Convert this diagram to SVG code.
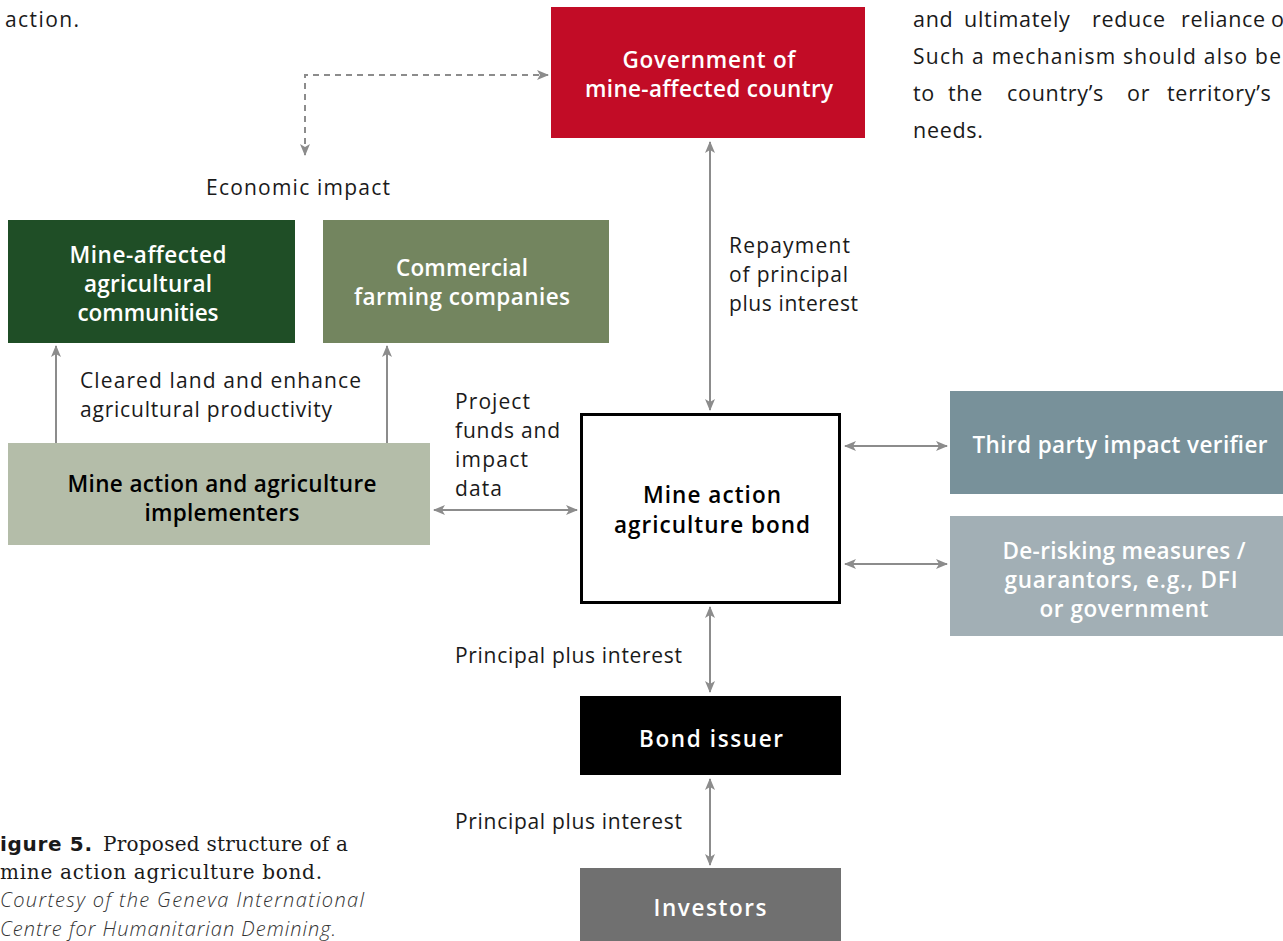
<svg xmlns="http://www.w3.org/2000/svg" width="1283" height="941" viewBox="0 0 1283 941">
<style>
.t{font-family:"Open Sans","Noto Sans",sans-serif;font-size:21px;fill:#1a1a1a}
.p{font-size:21.5px;letter-spacing:0.7px}
.b{font-family:"Open Sans","Noto Sans",sans-serif;font-size:22.5px;font-weight:600;text-anchor:middle}
.w{fill:#ffffff}
.k{fill:#000000}
.c{stroke:#8c8c8c;stroke-width:2;fill:none}
.d{stroke-dasharray:6,5}
.cs{font-family:"DejaVu Serif",serif;font-size:20px;fill:#1a1a1a}
.ci{font-family:"Open Sans","Noto Sans",sans-serif;font-size:20px;font-style:italic;font-weight:300;fill:#333}
</style>
<defs>
<marker id="ah" viewBox="0 0 12 10" refX="11" refY="5" markerWidth="12" markerHeight="10" markerUnits="userSpaceOnUse" orient="auto-start-reverse">
<path d="M0,0 L12,5 L0,10 L3,5 z" fill="#8c8c8c"/>
</marker>
</defs>
<rect width="1283" height="941" fill="#ffffff"/>

<g id="body-text">
<text class="t" x="5" y="27" textLength="74">action.</text>
<text class="t p" y="27"><tspan x="913">and</tspan><tspan x="964">ultimately</tspan><tspan x="1092">reduce</tspan><tspan x="1181">reliance</tspan><tspan x="1271">o</tspan></text>
<text class="t" x="913" y="64" textLength="368">Such a mechanism should also be</text>
<text class="t p" y="101"><tspan x="913">to</tspan><tspan x="948">the</tspan><tspan x="1007">country’s</tspan><tspan x="1127">or</tspan><tspan x="1167">territory’s</tspan></text>
<text class="t p" x="913" y="138">needs.</text>
</g>

<g id="caption">
<text x="0" y="851" class="cs"><tspan style="font-family:'DejaVu Sans',sans-serif;font-weight:700" textLength="92">igure 5.</tspan><tspan x="103" textLength="245">Proposed structure of a</tspan></text>
<text x="0" y="879" class="cs" textLength="322">mine action agriculture bond.</text>
<text x="0" y="907" class="ci" textLength="364">Courtesy of the Geneva International</text>
<text x="0" y="936" class="ci" textLength="336">Centre for Humanitarian Demining.</text>
</g>

<g id="connectors">
<path class="c d" d="M305,155 V75 H548" marker-start="url(#ah)" marker-end="url(#ah)"/>
<line class="c" x1="710" y1="142" x2="710" y2="410" marker-start="url(#ah)" marker-end="url(#ah)"/>
<line class="c" x1="56" y1="443" x2="56" y2="346" marker-end="url(#ah)"/>
<line class="c" x1="387" y1="443" x2="387" y2="346" marker-end="url(#ah)"/>
<line class="c" x1="434" y1="510" x2="577" y2="510" marker-start="url(#ah)" marker-end="url(#ah)"/>
<line class="c" x1="845" y1="446" x2="947" y2="446" marker-start="url(#ah)" marker-end="url(#ah)"/>
<line class="c" x1="845" y1="564" x2="947" y2="564" marker-start="url(#ah)" marker-end="url(#ah)"/>
<line class="c" x1="710" y1="607" x2="710" y2="692" marker-start="url(#ah)" marker-end="url(#ah)"/>
<line class="c" x1="710" y1="779" x2="710" y2="865" marker-start="url(#ah)" marker-end="url(#ah)"/>
</g>

<g id="labels">
<text class="t" x="206" y="195" textLength="184">Economic impact</text>
<text class="t" x="80" y="388" textLength="281">Cleared land and enhance</text>
<text class="t" x="80" y="417" textLength="252">agricultural productivity</text>
<text class="t" x="455" y="409" textLength="75">Project</text>
<text class="t" x="455" y="438" textLength="105">funds and</text>
<text class="t" x="455" y="467" textLength="73">impact</text>
<text class="t" x="455" y="496" textLength="47">data</text>
<text class="t" x="729" y="253" textLength="121">Repayment</text>
<text class="t" x="729" y="282" textLength="119">of principal</text>
<text class="t" x="729" y="311" textLength="129">plus interest</text>
<text class="t" x="455" y="663" textLength="227">Principal plus interest</text>
<text class="t" x="455" y="829" textLength="227">Principal plus interest</text>
</g>

<g id="government">
<rect x="551" y="7" width="314" height="131" fill="#c20c26"/>
<text class="b w" x="709" y="68" textLength="173">Government of</text>
<text class="b w" x="709" y="97" textLength="248">mine-affected country</text>
</g>

<g id="communities">
<rect x="8" y="220" width="287" height="123" fill="#1f4e26"/>
<text class="b w" x="148" y="263" textLength="157">Mine-affected</text>
<text class="b w" x="148" y="292" textLength="128">agricultural</text>
<text class="b w" x="148" y="321" textLength="141">communities</text>
</g>

<g id="commercial">
<rect x="323" y="220" width="286" height="123" fill="#73855f"/>
<text class="b w" x="462" y="276" textLength="132">Commercial</text>
<text class="b w" x="462" y="305" textLength="216">farming companies</text>
</g>

<g id="implementers">
<rect x="8" y="443" width="422" height="102" fill="#b4bda9"/>
<text class="b k" x="222" y="492" textLength="309">Mine action and agriculture</text>
<text class="b k" x="222" y="521" textLength="155">implementers</text>
</g>

<g id="bond">
<rect x="581.5" y="414.5" width="258" height="188" fill="#ffffff" stroke="#000" stroke-width="3"/>
<text class="b k" x="712" y="503" textLength="138">Mine action</text>
<text class="b k" x="712" y="533" textLength="196">agriculture bond</text>
</g>

<g id="verifier">
<rect x="950" y="391" width="333" height="103" fill="#78919a"/>
<text class="b w" x="1120" y="453" textLength="295">Third party impact verifier</text>
</g>

<g id="derisking">
<rect x="950" y="516" width="333" height="120" fill="#a2afb5"/>
<text class="b w" x="1124" y="559" textLength="243">De-risking measures /</text>
<text class="b w" x="1121" y="588" textLength="233">guarantors, e.g., DFI</text>
<text class="b w" x="1124" y="617" textLength="169">or government</text>
</g>

<g id="issuer">
<rect x="580" y="696" width="261" height="79" fill="#000000"/>
<text class="b w" x="711" y="747" textLength="144">Bond issuer</text>
</g>

<g id="investors">
<rect x="580" y="868" width="261" height="73" fill="#707070"/>
<text class="b w" x="710" y="916" textLength="113">Investors</text>
</g>
</svg>
